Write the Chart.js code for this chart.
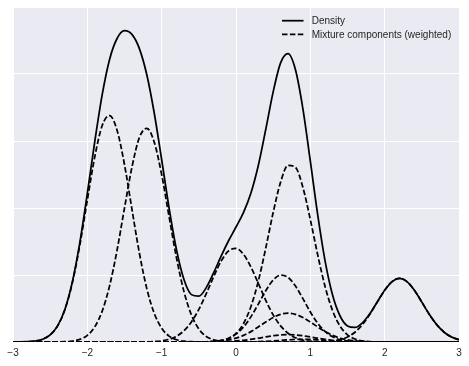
<!DOCTYPE html>
<html lang="en">
<head>
    <meta charset="UTF-8">
    <title>Density and mixture components</title>
    <script src="https://cdn.jsdelivr.net/npm/chart.js"></script>
    <style>
        html, body {
            margin: 0;
            padding: 0;
            background: #ffffff;
        }
        .chart-container {
            position: relative;
            width: 469px;
            height: 366px;
        }
    </style>
</head>
<body>
    <div class="chart-container">
        <canvas id="densityChart"></canvas>
    </div>
    <script>
        // x positions the curves were read at
        const xs = [
            -3.0, -2.9, -2.8, -2.7, -2.6, -2.5, -2.4, -2.3, -2.2, -2.1,
            -2.0, -1.9, -1.8, -1.7, -1.6, -1.5, -1.4, -1.3, -1.2, -1.1,
            -1.0, -0.9, -0.8, -0.7, -0.6, -0.5, -0.4, -0.3, -0.2, -0.1,
            0.0, 0.1, 0.2, 0.3, 0.4, 0.5, 0.6, 0.7, 0.8, 0.9,
            1.0, 1.1, 1.2, 1.3, 1.4, 1.5, 1.6, 1.7, 1.8, 1.9,
            2.0, 2.1, 2.2, 2.3, 2.4, 2.5, 2.6, 2.7, 2.8, 2.9,
            3.0
        ];
        const xTicks = [-3, -2, -1, 0, 1, 2, 3];

        // Total density
        const density = [
            0, 0.001, 0.005, 0.015, 0.042, 0.106, 0.241, 0.493, 0.905, 1.491,
            2.219, 2.991, 3.692, 4.221, 4.530, 4.646, 4.591, 4.379, 3.989, 3.418,
            2.720, 1.998, 1.374, 0.932, 0.707, 0.683, 0.812, 1.034, 1.282, 1.511,
            1.716, 1.930, 2.220, 2.634, 3.171, 3.734, 4.167, 4.303, 4.063, 3.481,
            2.699, 1.893, 1.200, 0.697, 0.388, 0.240, 0.217, 0.286, 0.421, 0.598,
            0.772, 0.902, 0.950, 0.902, 0.772, 0.595, 0.413, 0.259, 0.146, 0.074,
            0.034
        ];

        // Weighted mixture components
        const comp1 = [
            0, 0.001, 0.005, 0.015, 0.042, 0.106, 0.240, 0.489, 0.891, 1.452,
            2.119, 2.765, 3.231, 3.380, 3.160, 2.646, 1.982, 1.328, 0.797, 0.428,
            0.206, 0.088, 0.034, 0.012, 0.004, 0.001, 0, 0, 0, 0,
            0, 0, 0, 0, 0, 0, 0, 0, 0, 0,
            0, 0, 0, 0, 0, 0, 0, 0, 0, 0,
            0, 0, 0, 0, 0, 0, 0, 0, 0, 0,
            0
        ];
        const comp2 = [
            0, 0, 0, 0, 0, 0, 0.001, 0.004, 0.014, 0.039,
            0.100, 0.226, 0.461, 0.841, 1.370, 2.000, 2.609, 3.050, 3.190, 2.983,
            2.497, 1.870, 1.254, 0.752, 0.404, 0.194, 0.083, 0.032, 0.011, 0.003,
            0.001, 0, 0, 0, 0, 0, 0, 0, 0, 0,
            0, 0, 0, 0, 0, 0, 0, 0, 0, 0,
            0, 0, 0, 0, 0, 0, 0, 0, 0, 0,
            0
        ];
        const comp3 = [
            0, 0, 0, 0, 0, 0, 0, 0, 0, 0,
            0, 0, 0, 0, 0, 0, 0, 0.001, 0.002, 0.007,
            0.017, 0.040, 0.086, 0.168, 0.299, 0.486, 0.721, 0.977, 1.207, 1.359,
            1.397, 1.310, 1.121, 0.875, 0.623, 0.405, 0.240, 0.130, 0.064, 0.029,
            0.012, 0.004, 0.001, 0, 0, 0, 0, 0, 0, 0,
            0, 0, 0, 0, 0, 0, 0, 0, 0, 0,
            0
        ];
        const comp4 = [
            0, 0, 0, 0, 0, 0, 0, 0, 0, 0,
            0, 0, 0, 0, 0, 0, 0, 0, 0, 0,
            0, 0, 0, 0, 0, 0, 0.002, 0.007, 0.020, 0.053,
            0.127, 0.273, 0.527, 0.907, 1.400, 1.932, 2.386, 2.636, 2.607, 2.307,
            1.827, 1.296, 0.821, 0.466, 0.237, 0.107, 0.044, 0.016, 0.005, 0.002,
            0, 0, 0, 0, 0, 0, 0, 0, 0, 0,
            0
        ];
        const comp5 = [
            0, 0, 0, 0, 0, 0, 0, 0, 0, 0,
            0, 0, 0, 0, 0, 0, 0, 0, 0, 0,
            0, 0, 0, 0, 0, 0.001, 0.003, 0.009, 0.024, 0.056,
            0.118, 0.223, 0.375, 0.566, 0.764, 0.923, 0.998, 0.965, 0.835, 0.647,
            0.448, 0.278, 0.154, 0.077, 0.034, 0.014, 0.005, 0.002, 0, 0,
            0, 0, 0, 0, 0, 0, 0, 0, 0, 0,
            0
        ];
        const comp6 = [
            0, 0, 0, 0, 0, 0, 0, 0, 0, 0,
            0, 0, 0, 0, 0, 0, 0, 0, 0, 0,
            0, 0, 0, 0, 0, 0.001, 0.003, 0.007, 0.016, 0.032,
            0.058, 0.099, 0.155, 0.224, 0.298, 0.365, 0.413, 0.430, 0.413, 0.365,
            0.298, 0.224, 0.155, 0.099, 0.058, 0.032, 0.016, 0.007, 0.003, 0.001,
            0, 0, 0, 0, 0, 0, 0, 0, 0, 0,
            0
        ];
        const comp7 = [
            0, 0, 0, 0, 0, 0, 0, 0, 0, 0,
            0, 0, 0, 0, 0, 0, 0, 0, 0, 0,
            0, 0, 0, 0, 0, 0, 0, 0.002, 0.004, 0.008,
            0.015, 0.025, 0.040, 0.057, 0.076, 0.093, 0.106, 0.110, 0.106, 0.093,
            0.076, 0.057, 0.040, 0.025, 0.015, 0.008, 0.004, 0.002, 0, 0,
            0, 0, 0, 0, 0, 0, 0, 0, 0, 0,
            0
        ];
        const comp8 = [
            0, 0, 0, 0, 0, 0, 0, 0, 0, 0,
            0, 0, 0, 0, 0, 0, 0, 0, 0, 0,
            0, 0, 0, 0, 0, 0, 0, 0, 0, 0,
            0, 0, 0.002, 0.005, 0.010, 0.016, 0.024, 0.032, 0.038, 0.040,
            0.038, 0.032, 0.024, 0.016, 0.010, 0.005, 0.002, 0, 0, 0,
            0, 0, 0, 0, 0, 0, 0, 0, 0, 0,
            0
        ];
        const comp9 = [
            0, 0, 0, 0, 0, 0, 0, 0, 0, 0,
            0, 0, 0, 0, 0, 0, 0, 0, 0, 0,
            0, 0, 0, 0, 0, 0, 0, 0, 0, 0,
            0, 0, 0, 0, 0, 0, 0, 0, 0, 0,
            0, 0.002, 0.005, 0.014, 0.034, 0.074, 0.146, 0.259, 0.413, 0.595,
            0.772, 0.902, 0.950, 0.902, 0.772, 0.595, 0.413, 0.259, 0.146, 0.074,
            0.034
        ];
        const components = [comp1, comp2, comp3, comp4, comp5, comp6, comp7, comp8, comp9];

        const toPoints = ys => xs.map((x, i) => ({ x: x, y: ys[i] }));

        const lineStyle = {
            borderColor: '#000000',
            borderWidth: 1.75,
            pointRadius: 0,
            fill: false,
            cubicInterpolationMode: 'monotone'
        };

        const datasets = [{
            ...lineStyle,
            label: 'Density',
            data: toPoints(density)
        }];
        components.forEach(function(c) {
            datasets.push({
                ...lineStyle,
                label: 'Mixture components (weighted)',
                borderDash: [5.5, 2.4],
                data: toPoints(c)
            });
        });

        // grey plot face like seaborn darkgrid
        const plotBg = {
            id: 'plotBg',
            beforeDraw(chart) {
                const { ctx, chartArea: a } = chart;
                ctx.save();
                ctx.fillStyle = '#EAEAF2';
                ctx.fillRect(a.left, a.top, a.right - a.left, a.bottom - a.top);
                ctx.restore();
            }
        };

        // frameless legend in the upper right corner
        const cornerLegend = {
            id: 'cornerLegend',
            afterDraw(chart) {
                const { ctx, chartArea: a } = chart;
                const rows = [
                    { text: 'Density', dash: [], y: 20.7, base: 24 },
                    { text: 'Mixture components (weighted)', dash: [5.5, 2.4], y: 34.3, base: 38.3 }
                ];
                ctx.save();
                rows.forEach(function(r) {
                    ctx.beginPath();
                    ctx.setLineDash(r.dash);
                    ctx.lineWidth = 1.75;
                    ctx.strokeStyle = '#000000';
                    ctx.moveTo(a.right - 177, r.y);
                    ctx.lineTo(a.right - 155.5, r.y);
                    ctx.stroke();
                    ctx.setLineDash([]);
                    ctx.font = '10px "Liberation Sans", Arial, sans-serif';
                    ctx.fillStyle = '#262626';
                    ctx.textBaseline = 'alphabetic';
                    ctx.textAlign = 'left';
                    ctx.fillText(r.text, a.right - 147.3, r.base);
                });
                ctx.restore();
            }
        };

        new Chart(document.getElementById('densityChart'), {
            type: 'line',
            data: { datasets: datasets },
            plugins: [plotBg, cornerLegend],
            options: {
                responsive: true,
                maintainAspectRatio: false,
                animation: false,
                layout: {
                    padding: { left: 13, right: 10, top: 7, bottom: 2 }
                },
                plugins: {
                    legend: { display: false },
                    tooltip: { enabled: false }
                },
                scales: {
                    x: {
                        type: 'linear',
                        min: -3,
                        max: 3,
                        afterBuildTicks: function(axis) {
                            axis.ticks = xTicks.map(v => ({ value: v }));
                        },
                        border: { display: false },
                        grid: { color: '#ffffff', lineWidth: 1, drawTicks: false },
                        ticks: {
                            padding: 5,
                            color: '#262626',
                            font: { family: '"Liberation Sans", Arial, sans-serif', size: 10 },
                            maxRotation: 0,
                            callback: v => v < 0 ? '\u2212' + Math.abs(v) : String(v)
                        }
                    },
                    y: {
                        min: 0,
                        max: 5,
                        border: { display: false },
                        grid: { color: '#ffffff', lineWidth: 1, drawTicks: false },
                        ticks: { display: false, stepSize: 1 }
                    }
                }
            }
        });
    </script>
</body>
</html>
